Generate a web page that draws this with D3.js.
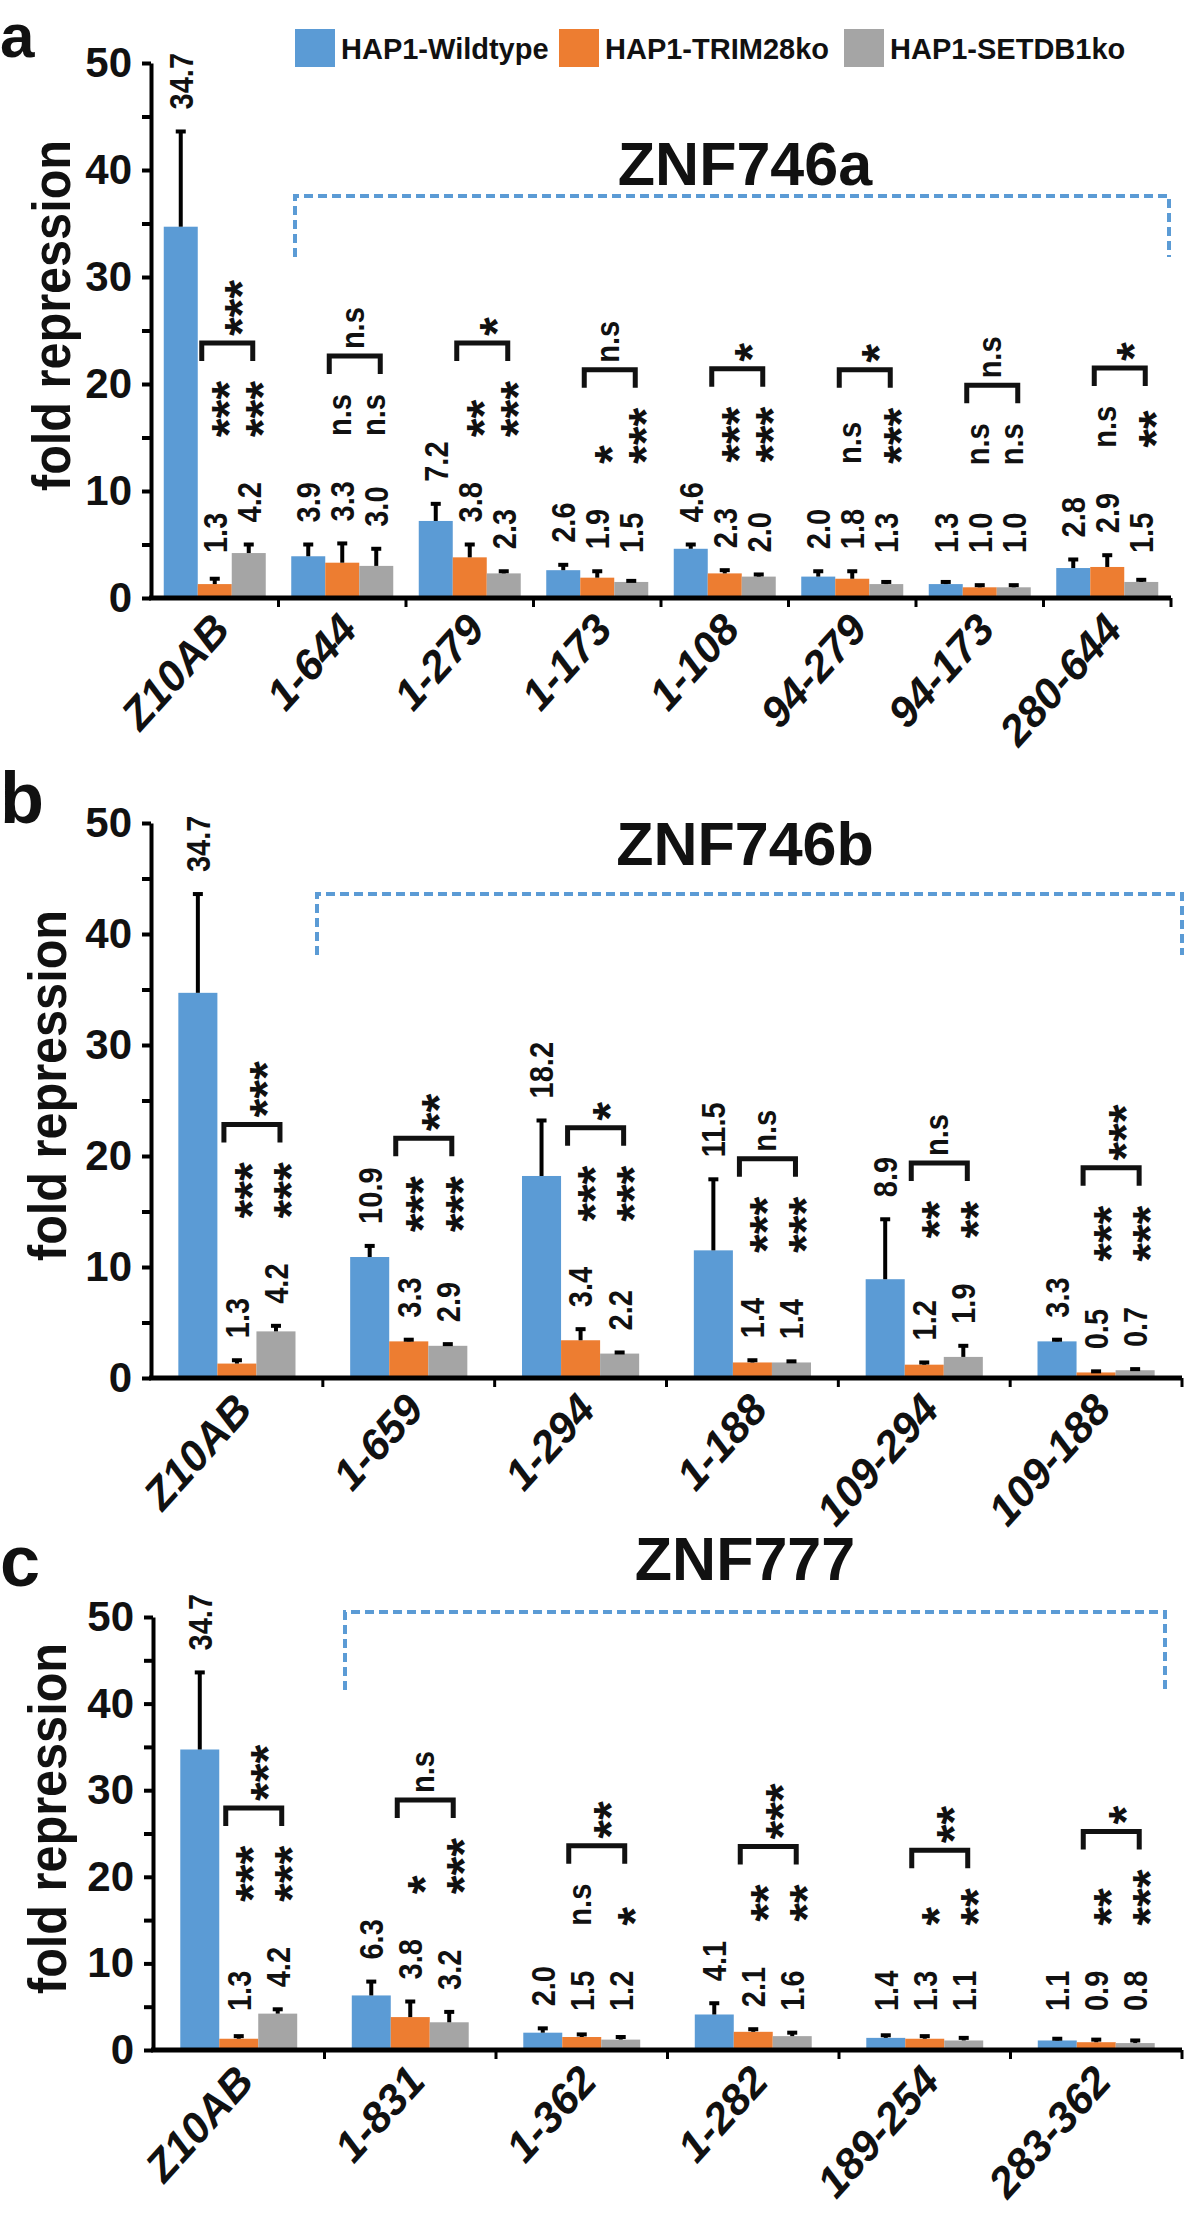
<!DOCTYPE html>
<html>
<head>
<meta charset="utf-8">
<script src="https://cdn.jsdelivr.net/npm/d3@7"></script>
<style>
  body { margin: 0; background: #fff; }
  svg text { font-family: "Liberation Sans", Arial, sans-serif; font-weight: bold; fill: #111; }
</style>
</head>
<body>
<div id="graf"></div>
<script>
// Series
const series = ["HAP1-Wildtype", "HAP1-TRIM28ko", "HAP1-SETDB1ko"]
const colores = ["#5b9bd5", "#ed7d31", "#a5a5a5"]
const yTicks = [0, 5, 10, 15, 20, 25, 30, 35, 40, 45, 50]

// Panel a - ZNF746a
const catA = ["Z10AB", "1-644", "1-279", "1-173", "1-108", "94-279", "94-173", "280-644"]
const wtA = [34.7, 3.9, 7.2, 2.6, 4.6, 2.0, 1.3, 2.8]
const trimA = [1.3, 3.3, 3.8, 1.9, 2.3, 1.8, 1.0, 2.9]
const setA = [4.2, 3.0, 2.3, 1.5, 2.0, 1.3, 1.0, 1.5]
const wtErrA = [8.9, 1.1, 1.6, 0.5, 0.4, 0.5, 0.2, 0.8]
const trimErrA = [0.5, 1.8, 1.2, 0.6, 0.3, 0.7, 0.2, 1.1]
const setErrA = [0.8, 1.6, 0.2, 0.1, 0.2, 0.2, 0.2, 0.2]
const sigTrimA = ["***", "n.s", "**", "*", "***", "n.s", "n.s", "n.s"]
const sigSetA = ["***", "n.s", "***", "***", "***", "***", "n.s", "**"]
const sigParA = ["***", "n.s", "*", "n.s", "*", "*", "n.s", "*"]

// Panel b - ZNF746b
const catB = ["Z10AB", "1-659", "1-294", "1-188", "109-294", "109-188"]
const wtB = [34.7, 10.9, 18.2, 11.5, 8.9, 3.3]
const trimB = [1.3, 3.3, 3.4, 1.4, 1.2, 0.5]
const setB = [4.2, 2.9, 2.2, 1.4, 1.9, 0.7]
const wtErrB = [8.9, 1.0, 5.0, 6.4, 5.4, 0.15]
const trimErrB = [0.3, 0.15, 1.0, 0.2, 0.2, 0.1]
const setErrB = [0.5, 0.15, 0.1, 0.1, 1.0, 0.1]
const sigTrimB = ["***", "***", "***", "***", "**", "***"]
const sigSetB = ["***", "***", "***", "***", "**", "***"]
const sigParB = ["***", "**", "*", "n.s", "n.s", "***"]

// Panel c - ZNF777
const catC = ["Z10AB", "1-831", "1-362", "1-282", "189-254", "283-362"]
const wtC = [34.7, 6.3, 2.0, 4.1, 1.4, 1.1]
const trimC = [1.3, 3.8, 1.5, 2.1, 1.3, 0.9]
const setC = [4.2, 3.2, 1.2, 1.6, 1.1, 0.8]
const wtErrC = [8.9, 1.6, 0.5, 1.3, 0.3, 0.2]
const trimErrC = [0.3, 1.8, 0.3, 0.3, 0.3, 0.3]
const setErrC = [0.5, 1.2, 0.3, 0.4, 0.3, 0.3]
const sigTrimC = ["***", "*", "n.s", "**", "*", "**"]
const sigSetC = ["***", "***", "*", "**", "**", "***"]
const sigParC = ["***", "n.s", "**", "***", "**", "*"]

const svg = d3.select("#graf").append("svg").attr("width", 1184).attr("height", 2226)

// texto vertical (de abajo hacia arriba), devuelve su largo
const textoVertical = (g, txt, cx, base) => {
  const estrella = /^\*+$/.test(txt)
  const sx = estrella ? 1 : 0.88
  const t = g.append("text")
    .attr("transform", `translate(${cx},${base}) rotate(-90) scale(${sx},1)`)
    .attr("dy", estrella ? "0.64em" : txt === "n.s" ? "0.27em" : "0.36em")
    .style("font-size", estrella ? "48px" : "33px")
    .text(txt)
  return t.node().getComputedTextLength() * sx
}

const dibujarPanel = (p) => {
  const g = svg.append("g")
  const x = d3.scaleBand().domain(p.cats).range([p.left, p.right])
  const xs = d3.scaleBand().domain([0, 1, 2]).range([0, x.bandwidth()]).paddingOuter(p.pad)
  const y = d3.scaleLinear().domain([0, 50]).range([p.bottom, p.top])

  const filas = p.cats.map((c, i) => ({
    cat: c,
    vals: [p.wt[i], p.trim[i], p.set[i]],
    errs: [p.wtErr[i], p.trimErr[i], p.setErr[i]],
    sig: [p.sigTrim[i], p.sigSet[i]],
    par: p.sigPar[i],
  }))

  // barras
  filas.forEach((f) => {
    f.vals.forEach((v, k) => {
      const bx = x(f.cat) + xs(k)
      const cx = bx + xs.bandwidth() / 2
      g.append("rect")
        .attr("x", bx)
        .attr("y", y(v))
        .attr("width", xs.bandwidth())
        .attr("height", y(0) - y(v))
        .attr("fill", colores[k])
      // error
      g.append("line")
        .attr("x1", cx).attr("x2", cx)
        .attr("y1", y(v)).attr("y2", y(v + f.errs[k]))
        .attr("stroke", "#000").attr("stroke-width", 4)
      g.append("rect")
        .attr("x", cx - 5).attr("y", y(v + f.errs[k]) - 2)
        .attr("width", 10).attr("height", 4)
        .attr("fill", "#000")
    })
  })

  // etiquetas de valor y significancia
  filas.forEach((f) => {
    const centros = [0, 1, 2].map((k) => x(f.cat) + xs(k) + xs.bandwidth() / 2)
    const topes = f.vals.map((v, k) => {
      const base = Math.min(y(v + f.errs[k]) - 22, y(p.floor))
      const largo = textoVertical(g, v.toFixed(1), centros[k], base)
      return base - largo
    })
    const baseSig = Math.min(y(p.sigFloor), Math.min(topes[1], topes[2]) - 45)
    const largos = f.sig.map((s, k) => textoVertical(g, s, centros[k + 1], baseSig))
    const pie = baseSig - d3.max(largos) - 20
    const techo = pie - 18
    const xl = centros[1] - 13
    const xr = centros[2] + 4
    g.append("path")
      .attr("d", `M${xl},${pie}V${techo}H${xr}V${pie}`)
      .attr("fill", "none")
      .attr("stroke", "#111")
      .attr("stroke-width", 5)
    textoVertical(g, f.par, (xl + xr) / 2, techo - 7)
  })

  // eje y
  const ejeY = g.append("g")
    .attr("transform", `translate(${p.left},0)`)
    .call(d3.axisLeft(y).tickValues(yTicks).tickSize(9).tickSizeOuter(0)
      .tickFormat((d) => (d % 10 === 0 ? d : "")))
  ejeY.select(".domain").attr("stroke", "#000").attr("stroke-width", 4)
  ejeY.selectAll(".tick line").attr("stroke", "#000").attr("stroke-width", 4)
  ejeY.selectAll(".tick text")
    .attr("x", -19)
    .style("font-size", "42px")
    .style("font-family", "'Liberation Sans', Arial, sans-serif")
    .style("font-weight", "bold")
    .attr("fill", "#111")

  // eje x
  g.append("line")
    .attr("x1", p.left - 2).attr("x2", p.right)
    .attr("y1", y(0)).attr("y2", y(0))
    .attr("stroke", "#000").attr("stroke-width", 5)
  const limites = p.cats.map((c) => x(c)).concat([p.right]).slice(1)
  g.selectAll(".tk")
    .data(limites)
    .join("line")
    .attr("x1", (d) => d).attr("x2", (d) => d)
    .attr("y1", y(0)).attr("y2", y(0) + 9)
    .attr("stroke", "#000").attr("stroke-width", 3)
  g.selectAll(".cat")
    .data(p.cats)
    .join("text")
    .attr("transform", (d) => `translate(${x(d) + x.bandwidth() / 2 + 17},${y(0) + 33}) rotate(-48)`)
    .attr("text-anchor", "end")
    .style("font-size", "43px")
    .style("font-style", "italic")
    .text((d) => d)

  // titulo eje y
  g.append("text")
    .attr("transform", `translate(${p.ylabX},${(p.top + p.bottom) / 2 - 15}) rotate(-90) scale(0.9,1)`)
    .attr("text-anchor", "middle")
    .style("font-size", "54px")
    .text("fold repression")

  // letra del panel
  g.append("text").attr("x", 0).attr("y", p.letraY).style("font-size", p.letraSize + "px").text(p.letra)

  // corchete punteado + nombre
  g.append("path")
    .attr("d", `M${p.dash[0]},${p.dash[3]}V${p.dash[2]}H${p.dash[1]}V${p.dash[3]}`)
    .attr("fill", "none")
    .attr("stroke", "#5b9bd5")
    .attr("stroke-width", 4)
    .attr("stroke-dasharray", "9,5")
  g.append("text")
    .attr("x", 745).attr("y", p.tituloY)
    .attr("text-anchor", "middle")
    .style("font-size", "61px")
    .text(p.titulo)
}

dibujarPanel({
  cats: catA, wt: wtA, trim: trimA, set: setA,
  wtErr: wtErrA, trimErr: trimErrA, setErr: setErrA,
  sigTrim: sigTrimA, sigSet: sigSetA, sigPar: sigParA,
  left: 151, right: 1171, top: 63, bottom: 598, pad: 0.375,
  floor: 4.2, sigFloor: 12.4, ylabX: 70, letra: "a", letraY: 57, letraSize: 62,
  dash: [295, 1169, 196, 257], titulo: "ZNF746a", tituloY: 185,
})
dibujarPanel({
  cats: catB, wt: wtB, trim: trimB, set: setB,
  wtErr: wtErrB, trimErr: trimErrB, setErr: setErrB,
  sigTrim: sigTrimB, sigSet: sigSetB, sigPar: sigParB,
  left: 151, right: 1182, top: 823, bottom: 1378, pad: 0.7,
  floor: 0, sigFloor: 0, ylabX: 66, letra: "b", letraY: 823, letraSize: 72,
  dash: [317, 1182, 894, 955], titulo: "ZNF746b", tituloY: 865,
})
dibujarPanel({
  cats: catC, wt: wtC, trim: trimC, set: setC,
  wtErr: wtErrC, trimErr: trimErrC, setErr: setErrC,
  sigTrim: sigTrimC, sigSet: sigSetC, sigPar: sigParC,
  left: 153, right: 1182, top: 1617, bottom: 2050, pad: 0.7,
  floor: 4.5, sigFloor: 0, ylabX: 66, letra: "c", letraY: 1586, letraSize: 72,
  dash: [345, 1165, 1612, 1690], titulo: "ZNF777", tituloY: 1580,
})

// Leyenda
const leyenda = svg.append("g")
const legX = [295, 559, 844]
series.forEach((s, i) => {
  leyenda.append("rect").attr("x", legX[i]).attr("y", 29).attr("width", 40).attr("height", 38).attr("fill", colores[i])
  leyenda.append("text").attr("x", legX[i] + 46).attr("y", 59).style("font-size", "29px").text(s)
})
</script>
</body>
</html>
